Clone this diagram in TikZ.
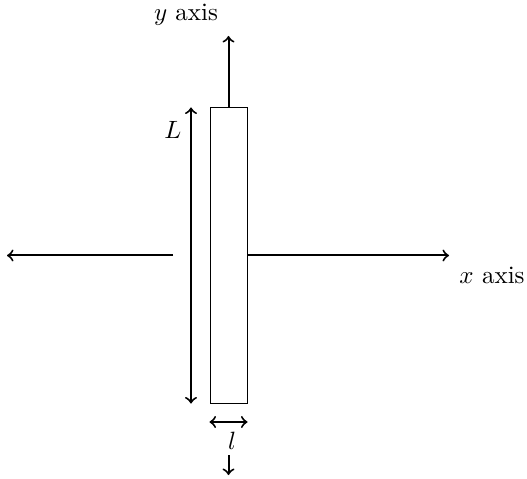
\documentclass[tikz,border=0pt]{standalone}
\begin{document}
\begin{tikzpicture}[x=0.4pt,y=-0.4pt,
  axis/.style={thick,->},
  dim/.style={thick,<->},
  lbl/.style={inner sep=0pt}]
\useasboundingbox (0,0) rectangle (527,479);
\node[draw,line width=0.4pt,inner sep=0pt,minimum width=14.8pt,minimum height=118pt] (rod) at (228.5,255.5) {};
\coordinate (ytip) at (228.5,36);
\coordinate (xtip) at (449,255.5);
\coordinate (xl0) at (173,255.5);
\coordinate (xltip) at (7,255.5);
\coordinate (Lx) at (191,0);
\coordinate (ly) at (0,422);
\coordinate (d0) at (228.5,455);
\coordinate (d1) at (228.5,475);
\draw[axis] (rod.north) -- (ytip);
\draw[axis] (rod.east) -- (xtip);
\draw[axis] (xl0) -- (xltip);
\draw[dim] (rod.north -| Lx) -- (rod.south -| Lx);
\draw[dim] (rod.west |- ly) -- (rod.east |- ly);
\draw[axis] (d0) -- (d1);
\node[lbl] (Llab) at (173,130) {$L$};
\node[lbl] (llab) at (232,441) {$l$};
\node[lbl] (ylab) at (186,15) {$y$ axis};
\node[lbl] (xlab) at (492,275) {$x$ axis};
\end{tikzpicture}
\end{document}
